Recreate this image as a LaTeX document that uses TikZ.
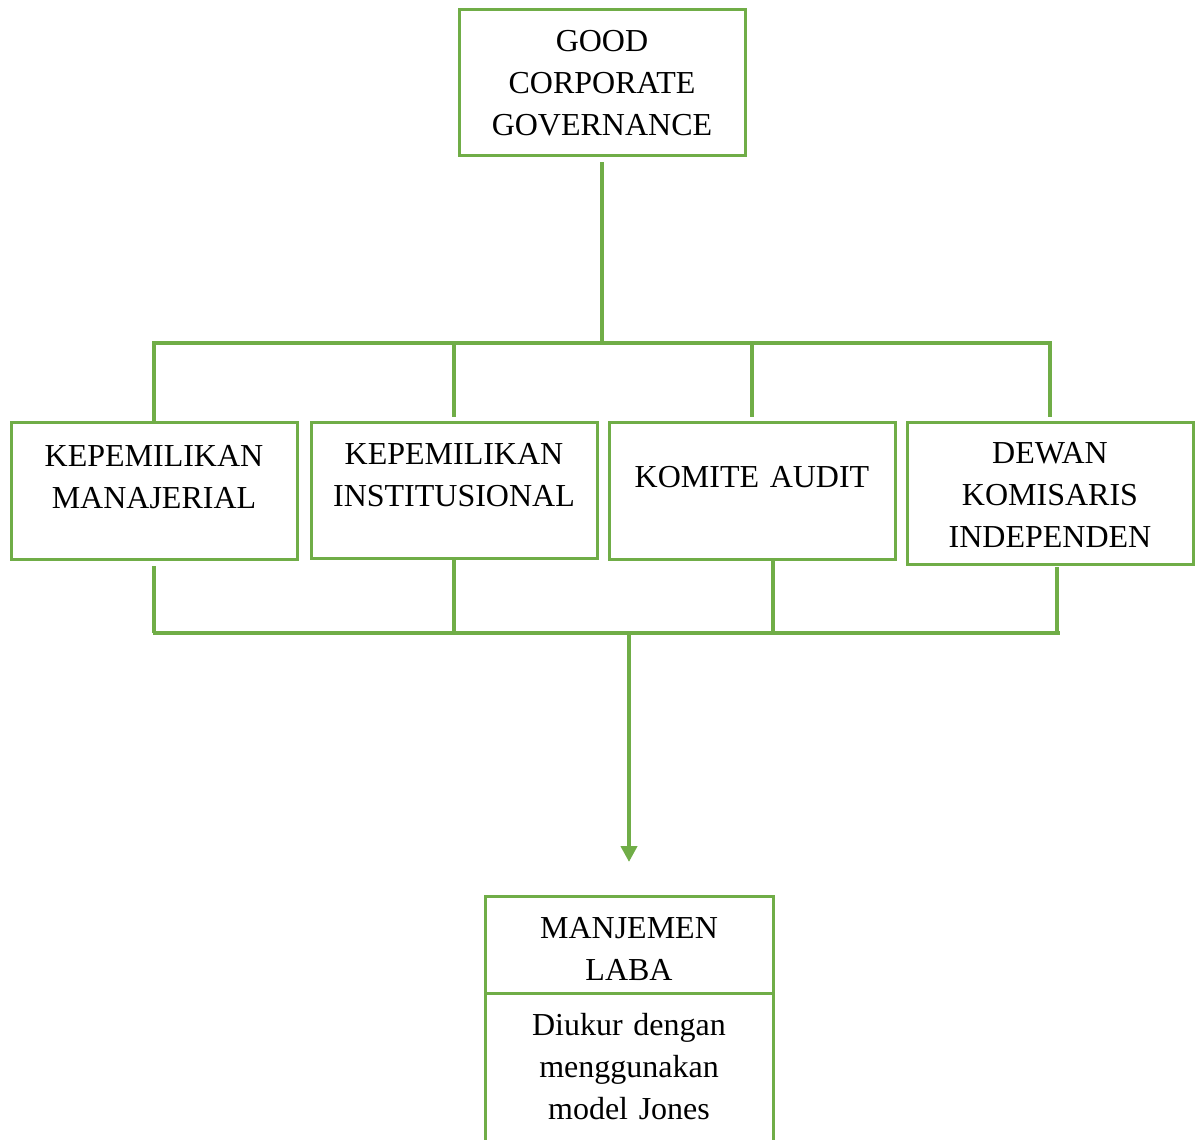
\documentclass[tikz,border=0pt]{standalone}
\usepackage{fontspec}
\setmainfont{Liberation Serif}
\usetikzlibrary{arrows.meta,positioning}
\definecolor{gcggreen}{HTML}{70AD47}

\begin{document}
\begin{tikzpicture}[
  x=0.5pt,
  y=-0.5pt,
  font=\fontsize{16}{21}\selectfont,
  frame/.style={draw=gcggreen, line width=1.5pt, inner sep=0pt, outer sep=0pt, anchor=north, align=center, minimum width=143pt, text width=143pt},
  link/.style={draw=gcggreen, line width=2pt},
  flow/.style={link, -{Triangle[length=8pt, width=8pt]}}
]
\useasboundingbox (0,0) rectangle (1199,1140);

\node[frame, text height=21pt, text depth=52pt] (gcg) at (602,9) {GOOD\\CORPORATE\\GOVERNANCE};

\node[frame, text height=22pt, text depth=46.5pt] (kman) at (154,422) {KEPEMILIKAN\\MANAJERIAL};
\node[frame, text height=21pt, text depth=47pt] (kins) at (454,422) {KEPEMILIKAN\\INSTITUSIONAL};
\node[frame, text height=32.5pt, text depth=36pt] (kaud) at (752,422) {KOMITE AUDIT};
\node[frame, text height=20.5pt, text depth=50.5pt] (dki) at (1050,422) {DEWAN\\KOMISARIS\\INDEPENDEN};

\node[frame, minimum width=144pt, text width=144pt, text height=21pt, text depth=27.5pt] (ml) at (629,896) {MANJEMEN\\LABA};
\node[frame, minimum width=144pt, text width=144pt, text height=21pt, text depth=65pt, below=0pt of ml] (mj) {Diukur dengan\\menggunakan\\model Jones};

\coordinate (tbL) at (152,343);
\coordinate (tbR) at (1052,343);
\coordinate (bbL) at (153,633);
\coordinate (bbR) at (1060,633);

\draw[link, shorten <=3.5pt] (gcg.south) -- (gcg.south |- tbL);
\draw[link] (tbL) -- (tbR);
\draw[link] (kman.north |- tbL) -- (kman.north);
\draw[link, shorten >=2.5pt] (kins.north |- tbL) -- (kins.north);
\draw[link, shorten >=2.5pt] (kaud.north |- tbL) -- (kaud.north);
\draw[link, shorten >=2.5pt] (dki.north |- tbL) -- (dki.north);

\draw[link, shorten <=3.5pt] (kman.south) -- (kman.south |- bbL);
\draw[link] (kins.south) -- (kins.south |- bbL);
\draw[link] ([xshift=10.5pt]kaud.south) -- ([xshift=10.5pt]kaud.south |- bbL);
\draw[link, shorten <=1.5pt] ([xshift=3.5pt]dki.south) -- ([xshift=3.5pt]dki.south |- bbL);
\draw[link] (bbL) -- (bbR);

\draw[flow] (ml.north |- bbL) -- ([yshift=17pt]ml.north);

\end{tikzpicture}
\end{document}
